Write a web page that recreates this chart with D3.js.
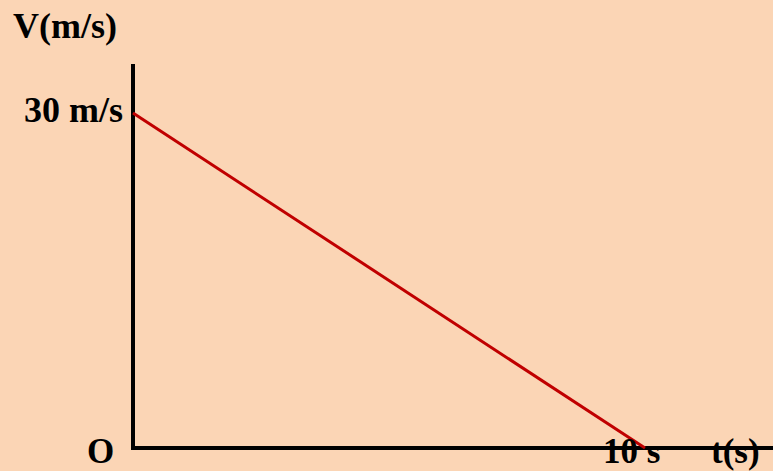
<!DOCTYPE html>
<html>
<head>
<meta charset="utf-8">
<script src="https://cdn.jsdelivr.net/npm/d3@7"></script>
<style>
html,body{margin:0;padding:0;background:#FBD5B5;}
svg{display:block;}
text{font-family:"Liberation Serif","Times New Roman",serif;font-weight:bold;fill:#000;}
</style>
</head>
<body>
<svg id="c" width="773" height="471"></svg>
<script>
const times = [0, 10];
const speeds = [30, 0];
const yTickLabel = "30 m/s";
const xTickLabel = "10 s";
const yAxisTitle = "V(m/s)";
const xAxisTitle = "t(s)";
const originLabel = "O";

const svg = d3.select("#c");
const W = 773, H = 471;
svg.append("rect").attr("width", W).attr("height", H).attr("fill", "#FBD5B5");

const x = d3.scaleLinear().domain([0, 10]).range([133, 645]);
const y = d3.scaleLinear().domain([0, 30]).range([448, 113]);

// axes
svg.append("line").attr("x1", x(0)).attr("x2", x(0)).attr("y1", 64).attr("y2", y(0) + 2)
  .attr("stroke", "#000").attr("stroke-width", 4);
svg.append("line").attr("x1", x(0) - 2).attr("x2", W).attr("y1", y(0)).attr("y2", y(0))
  .attr("stroke", "#000").attr("stroke-width", 4);

// data line
const pts = times.map((t, i) => [t, speeds[i]]);
svg.append("path").datum(pts)
  .attr("d", d3.line().x(d => x(d[0])).y(d => y(d[1])))
  .attr("fill", "none").attr("stroke", "#C00000").attr("stroke-width", 3);

// labels
svg.append("text").attr("x", 13).attr("y", 38).attr("font-size", 36).text(yAxisTitle);
svg.append("text").attr("x", 123).attr("y", 122).attr("font-size", 36).attr("text-anchor", "end").text(yTickLabel);
svg.append("text").attr("x", 87).attr("y", 463).attr("font-size", 35).text(originLabel);
svg.append("text").attr("x", 603).attr("y", 463).attr("font-size", 35).text(xTickLabel);
svg.append("text").attr("x", 711).attr("y", 463).attr("font-size", 35).text(xAxisTitle);
</script>
</body>
</html>
